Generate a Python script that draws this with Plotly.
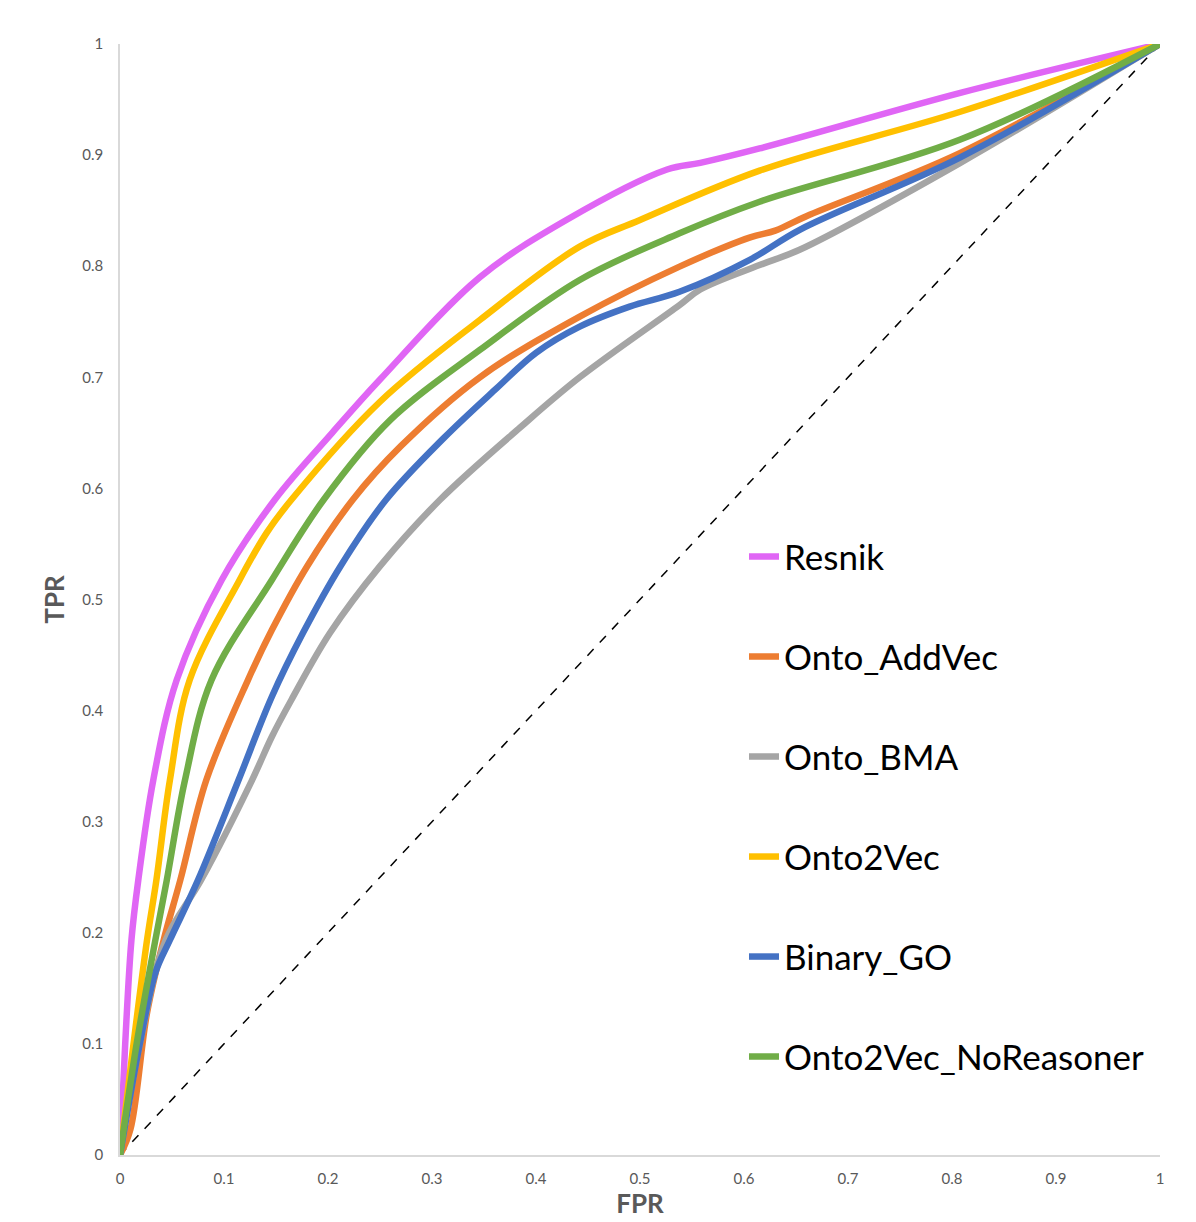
import plotly.graph_objects as go

# ROC curves
resnik_fpr = [0, 0.005, 0.011, 0.0176, 0.032, 0.0545, 0.0978, 0.149, 0.204, 0.25, 0.346, 0.43, 0.526, 0.558, 0.615, 0.808, 1]
resnik_tpr = [0, 0.1, 0.1935, 0.2475, 0.3375, 0.4275, 0.5176, 0.59, 0.65, 0.698, 0.79, 0.842, 0.887, 0.893, 0.906, 0.956, 1]

addvec_fpr = [0, 0.01, 0.026, 0.042, 0.058, 0.083, 0.123, 0.146, 0.18, 0.224, 0.27, 0.346, 0.442, 0.538, 0.606, 0.63, 0.66, 0.808, 1]
addvec_tpr = [0, 0.023, 0.128, 0.1935, 0.2475, 0.3375, 0.4275, 0.4725, 0.53, 0.59, 0.638, 0.70, 0.7546, 0.7996, 0.826, 0.832, 0.845, 0.902, 1]

bma_fpr = [0, 0.019, 0.044, 0.078, 0.127, 0.146, 0.165, 0.202, 0.25, 0.308, 0.385, 0.442, 0.538, 0.558, 0.615, 0.654, 0.808, 1]
bma_tpr = [0, 0.1, 0.1935, 0.2475, 0.3375, 0.3765, 0.41, 0.47, 0.53, 0.59, 0.655, 0.70, 0.765, 0.779, 0.801, 0.815, 0.893, 1]

onto2vec_fpr = [0, 0.013, 0.026, 0.035, 0.048, 0.067, 0.115, 0.141, 0.165, 0.25, 0.346, 0.442, 0.5, 0.615, 0.808, 1]
onto2vec_tpr = [0, 0.1, 0.1935, 0.2475, 0.3375, 0.4275, 0.5176, 0.56, 0.59, 0.678, 0.7516, 0.8176, 0.8416, 0.886, 0.939, 1]

binary_fpr = [0, 0.019, 0.034, 0.048, 0.075, 0.114, 0.146, 0.176, 0.212, 0.256, 0.311, 0.362, 0.40, 0.442, 0.49, 0.538, 0.606, 0.654, 0.808, 1]
binary_tpr = [0, 0.1, 0.164, 0.1935, 0.2475, 0.3375, 0.4125, 0.47, 0.53, 0.59, 0.645, 0.69, 0.722, 0.7456, 0.7636, 0.777, 0.806, 0.833, 0.898, 1]

noreason_fpr = [0, 0.016, 0.034, 0.045, 0.0625, 0.088, 0.146, 0.196, 0.26, 0.346, 0.442, 0.538, 0.615, 0.808, 1]
noreason_tpr = [0, 0.1, 0.1935, 0.2475, 0.3375, 0.4275, 0.5176, 0.59, 0.6616, 0.7246, 0.7876, 0.8296, 0.858, 0.914, 1]

names = ["Resnik", "Onto_AddVec", "Onto_BMA", "Onto2Vec", "Binary_GO", "Onto2Vec_NoReasoner"]
colors = ["#E066F5", "#ED7D31", "#A5A5A5", "#FFC000", "#4472C4", "#70AD47"]
curves = [
    (resnik_fpr, resnik_tpr),
    (addvec_fpr, addvec_tpr),
    (bma_fpr, bma_tpr),
    (onto2vec_fpr, onto2vec_tpr),
    (binary_fpr, binary_tpr),
    (noreason_fpr, noreason_tpr),
]

diag = [0, 1]

fig = go.Figure()

# 対角線 (ランダム分類器)
fig.add_trace(go.Scatter(
    x=diag, y=diag, mode="lines",
    line=dict(color="black", width=1.5, dash="dash"),
    showlegend=False, hoverinfo="skip"
))

for name, color, (fx, ty) in zip(names, colors, curves):
    fig.add_trace(go.Scatter(
        x=fx, y=ty, mode="lines", name=name, legendgroup=name,
        line=dict(color=color, width=6.5, shape="spline", smoothing=1.0)
    ))

axis_font = dict(family="Lato, Open Sans, sans-serif", size=15, color="#595959")

# ページのbody余白(8px)を考慮してサイズを調整
fig.update_layout(
    width=1188, height=1214,
    margin=dict(l=112, r=36, t=36, b=67),
    paper_bgcolor="white", plot_bgcolor="white",
    font=dict(family="Lato, Open Sans, sans-serif"),
    legend=dict(
        x=0.6, y=0.565, xanchor="left", yanchor="top",
        font=dict(size=35, color="black"),
        traceorder="grouped", tracegroupgap=51.5,
        bgcolor="rgba(0,0,0,0)",
    ),
    xaxis=dict(
        range=[0, 1], dtick=0.1, showgrid=False, zeroline=False,
        showline=True, linecolor="#D9D9D9", linewidth=1.5,
        ticks="", tickfont=axis_font, ticklabelstandoff=9,
        title=dict(text="<b>FPR</b>", font=dict(size=26, color="#595959"), standoff=4),
    ),
    yaxis=dict(
        range=[0, 1], dtick=0.1, showgrid=False, zeroline=False,
        showline=True, linecolor="#D9D9D9", linewidth=1.5,
        ticks="", tickfont=axis_font, ticklabelstandoff=12,
        title=dict(text="<b>TPR</b>", font=dict(size=26, color="#595959"), standoff=10),
    ),
)

fig.write_html("out.html")
